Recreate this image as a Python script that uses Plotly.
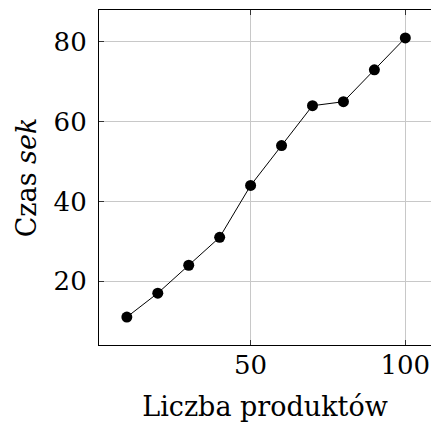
import plotly.graph_objects as go

products = [10, 20, 30, 40, 50, 60, 70, 80, 90, 100]
seconds = [11, 17, 24, 31, 44, 54, 64, 65, 73, 81]
x_ticks = [50, 100]
y_ticks = [20, 40, 60, 80]

font_family = "DejaVu Serif"

fig = go.Figure(
    go.Scatter(
        x=products, y=seconds, mode="lines+markers",
        line=dict(color="black", width=1),
        marker=dict(color="black", size=11),
        showlegend=False,
    )
)

fig.update_layout(
    width=431, height=425,
    margin=dict(l=99, r=0, t=10, b=80),
    paper_bgcolor="white", plot_bgcolor="white",
    font=dict(family=font_family, size=26, color="black"),
)
fig.update_xaxes(
    range=[1, 108.3], tickvals=x_ticks, ticks="inside", ticklen=5, tickcolor="#333",
    showgrid=True, gridcolor="#c8c8c8", gridwidth=1,
    showline=True, linecolor="black", linewidth=1.2, mirror="ticks",
    zeroline=False,
    tickfont=dict(family=font_family, size=26),
    title=dict(text="Liczba produktów", font=dict(family=font_family, size=27), standoff=17),
    ticklabelstandoff=-3,
)
fig.update_yaxes(
    range=[4, 88], tickvals=y_ticks, ticks="inside", ticklen=5, tickcolor="#333",
    showgrid=True, gridcolor="#c8c8c8", gridwidth=1,
    showline=True, linecolor="black", linewidth=1.2, mirror=False,
    zeroline=False,
    tickfont=dict(family=font_family, size=26),
    title=dict(text="Czas <i>sek</i>", font=dict(family=font_family, size=27), standoff=9),
    ticklabelstandoff=6,
)

fig.write_html("out.html")
